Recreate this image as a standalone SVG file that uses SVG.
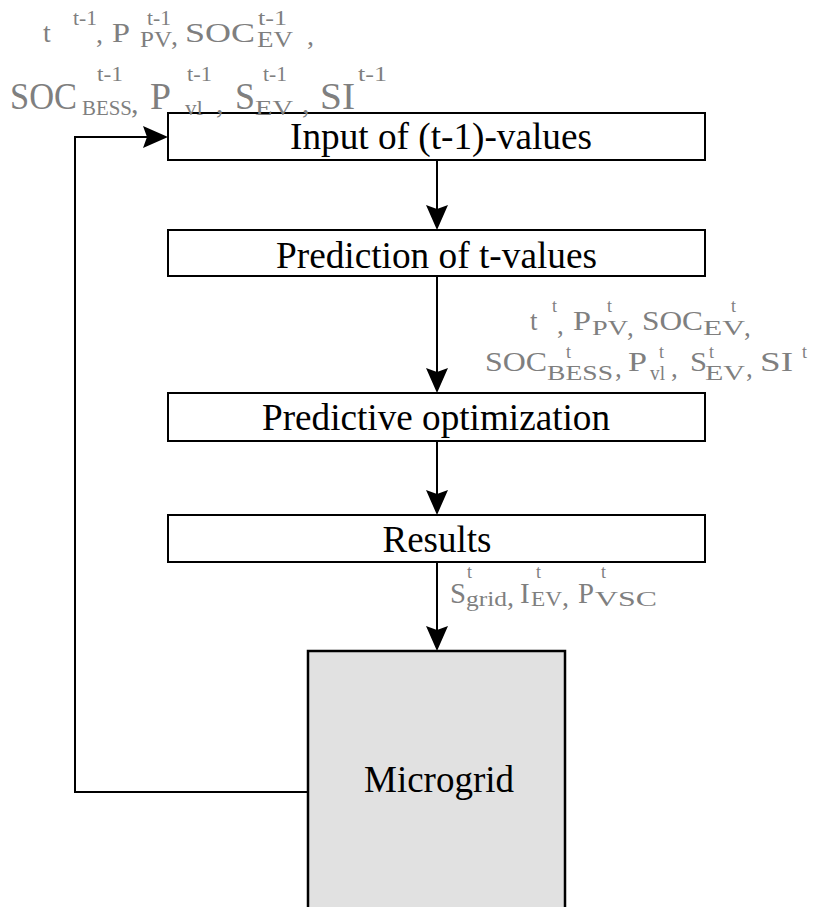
<svg xmlns="http://www.w3.org/2000/svg" width="839" height="907" viewBox="0 0 839 907" font-family="Liberation Serif, DejaVu Serif, serif">
  <style>
    .box { fill: #ffffff; stroke: #000000; stroke-width: 2; }
    .grid { fill: #e1e1e1; stroke: #000000; stroke-width: 2.5; }
    .lbl { font-size: 37px; fill: #000000; text-anchor: middle; }
    .wire { fill: none; stroke: #000000; stroke-width: 2; }
    .m { fill: #7f7f7f; }
  </style>
  <defs>
    <marker id="arrow" markerUnits="userSpaceOnUse" markerWidth="26" markerHeight="24" refX="17" refY="11" orient="auto" overflow="visible">
      <path d="M0,0 L25,11 L0,22 L4,11 Z" fill="#000000"/>
    </marker>
  </defs>

  <rect width="839" height="907" fill="#ffffff"/>

  <!-- connectors -->
  <g id="connectors">
    <path class="wire" d="M437,160 V222" marker-end="url(#arrow)"/>
    <path class="wire" d="M437,276 V385" marker-end="url(#arrow)"/>
    <path class="wire" d="M437,441 V507" marker-end="url(#arrow)"/>
    <path class="wire" d="M437,562 V643" marker-end="url(#arrow)"/>
    <path class="wire" d="M308,792 H75 V137 H160" marker-end="url(#arrow)"/>
  </g>

  <!-- process steps -->
  <g id="input">
    <rect class="box" x="168" y="113" width="537" height="47"/>
    <text class="lbl" x="441" y="149" textLength="302" lengthAdjust="spacingAndGlyphs">Input of (t-1)-values</text>
  </g>
  <g id="prediction">
    <rect class="box" x="168" y="230" width="537" height="46"/>
    <text class="lbl" x="436.5" y="268" textLength="321" lengthAdjust="spacingAndGlyphs">Prediction of t-values</text>
  </g>
  <g id="optimization">
    <rect class="box" x="168" y="393" width="537" height="48"/>
    <text class="lbl" x="436" y="430" textLength="348" lengthAdjust="spacingAndGlyphs">Predictive optimization</text>
  </g>
  <g id="results">
    <rect class="box" x="168" y="515" width="537" height="47"/>
    <text class="lbl" x="437" y="552">Results</text>
  </g>
  <g id="microgrid">
    <rect class="grid" x="308" y="651" width="257" height="258"/>
    <text class="lbl" x="439" y="792">Microgrid</text>
  </g>

  <!-- measured (t-1) values fed back from the microgrid -->
  <g id="inputs-prev" class="m">
    <text x="43" y="42" font-size="28">t</text>
    <text x="73" y="25" font-size="20" textLength="24" lengthAdjust="spacingAndGlyphs">t-1</text>
    <text x="96" y="43" font-size="28">,</text>
    <text x="112" y="42" font-size="28" textLength="18" lengthAdjust="spacingAndGlyphs">P</text>
    <text x="147" y="25" font-size="20" textLength="24" lengthAdjust="spacingAndGlyphs">t-1</text>
    <text x="140" y="47" font-size="23" textLength="32" lengthAdjust="spacingAndGlyphs">PV</text>
    <text x="171" y="45" font-size="28">,</text>
    <text x="185" y="42" font-size="28" textLength="70" lengthAdjust="spacingAndGlyphs">SOC</text>
    <text x="258" y="25" font-size="20" textLength="29" lengthAdjust="spacingAndGlyphs">t-1</text>
    <text x="257" y="47" font-size="23" textLength="36" lengthAdjust="spacingAndGlyphs">EV</text>
    <text x="307" y="45" font-size="28">,</text>

    <text x="10" y="109" font-size="37" textLength="67" lengthAdjust="spacingAndGlyphs">SOC</text>
    <text x="97" y="81" font-size="22" textLength="26" lengthAdjust="spacingAndGlyphs">t-1</text>
    <text x="82" y="115" font-size="20" textLength="50" lengthAdjust="spacingAndGlyphs">BESS</text>
    <text x="131" y="113" font-size="30">,</text>
    <text x="150" y="109" font-size="37" textLength="21" lengthAdjust="spacingAndGlyphs">P</text>
    <text x="187" y="81" font-size="22" textLength="25" lengthAdjust="spacingAndGlyphs">t-1</text>
    <text x="185" y="115" font-size="20" textLength="18" lengthAdjust="spacingAndGlyphs">vl</text>
    <text x="216" y="113" font-size="30">,</text>
    <text x="235" y="109" font-size="37" textLength="20" lengthAdjust="spacingAndGlyphs">S</text>
    <text x="263" y="81" font-size="22" textLength="24" lengthAdjust="spacingAndGlyphs">t-1</text>
    <text x="255" y="115" font-size="22" textLength="38" lengthAdjust="spacingAndGlyphs">EV</text>
    <text x="302" y="113" font-size="30">,</text>
    <text x="320" y="109" font-size="37" textLength="35" lengthAdjust="spacingAndGlyphs">SI</text>
    <text x="358" y="81" font-size="22" textLength="29" lengthAdjust="spacingAndGlyphs">t-1</text>
  </g>

  <!-- predicted t values -->
  <g id="inputs-pred" class="m">
    <text x="530" y="330" font-size="27">t</text>
    <text x="552" y="312" font-size="18">t</text>
    <text x="557" y="334" font-size="27">,</text>
    <text x="573" y="330" font-size="27" textLength="18" lengthAdjust="spacingAndGlyphs">P</text>
    <text x="607" y="312" font-size="18">t</text>
    <text x="592" y="335" font-size="22" textLength="36" lengthAdjust="spacingAndGlyphs">PV</text>
    <text x="627" y="336" font-size="27">,</text>
    <text x="642" y="330" font-size="27" textLength="61" lengthAdjust="spacingAndGlyphs">SOC</text>
    <text x="731" y="312" font-size="18">t</text>
    <text x="703" y="335" font-size="22" textLength="42" lengthAdjust="spacingAndGlyphs">EV</text>
    <text x="744" y="336" font-size="27">,</text>

    <text x="485" y="371" font-size="28" textLength="62" lengthAdjust="spacingAndGlyphs">SOC</text>
    <text x="566" y="358" font-size="18">t</text>
    <text x="547" y="380" font-size="21" textLength="66" lengthAdjust="spacingAndGlyphs">BESS</text>
    <text x="615" y="377" font-size="27">,</text>
    <text x="628" y="371" font-size="28" textLength="19" lengthAdjust="spacingAndGlyphs">P</text>
    <text x="659" y="358" font-size="18">t</text>
    <text x="650" y="380" font-size="21" textLength="15" lengthAdjust="spacingAndGlyphs">vl</text>
    <text x="671" y="377" font-size="27">,</text>
    <text x="690" y="371" font-size="28" textLength="17" lengthAdjust="spacingAndGlyphs">S</text>
    <text x="709" y="358" font-size="18">t</text>
    <text x="705" y="380" font-size="21" textLength="40" lengthAdjust="spacingAndGlyphs">EV</text>
    <text x="746" y="377" font-size="27">,</text>
    <text x="760" y="371" font-size="28" textLength="33" lengthAdjust="spacingAndGlyphs">SI</text>
    <text x="802" y="358" font-size="18">t</text>
  </g>

  <!-- optimization results sent to the microgrid -->
  <g id="outputs" class="m">
    <text x="450" y="603" font-size="29" textLength="16" lengthAdjust="spacingAndGlyphs">S</text>
    <text x="467" y="578" font-size="18">t</text>
    <text x="466" y="606" font-size="22" textLength="41" lengthAdjust="spacingAndGlyphs">grid</text>
    <text x="507" y="606" font-size="28">,</text>
    <text x="520" y="603" font-size="29">I</text>
    <text x="536" y="578" font-size="18">t</text>
    <text x="531" y="606" font-size="22" textLength="31" lengthAdjust="spacingAndGlyphs">EV</text>
    <text x="562" y="606" font-size="28">,</text>
    <text x="578" y="603" font-size="29" textLength="16" lengthAdjust="spacingAndGlyphs">P</text>
    <text x="601" y="578" font-size="18">t</text>
    <text x="595" y="606" font-size="22" textLength="62" lengthAdjust="spacingAndGlyphs">VSC</text>
  </g>
</svg>
